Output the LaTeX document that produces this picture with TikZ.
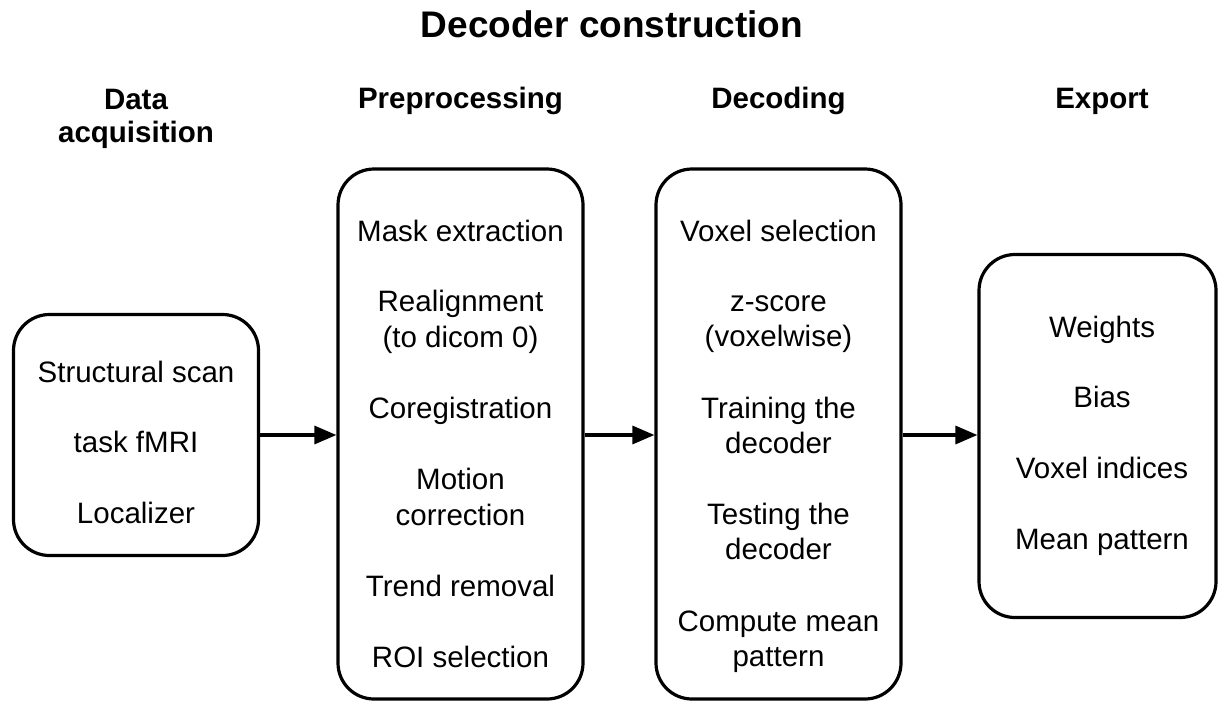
\documentclass[tikz,border=0pt]{standalone}
\usepackage{fontspec}
\setmainfont{Liberation Sans}
\usetikzlibrary{arrows.meta}
\begin{document}
\begin{tikzpicture}[x=1pt,y=-1pt,
  stagebox/.style={draw=black,line width=3.2pt,rounded corners=36pt,fill=none,inner sep=0pt},
  item/.style={anchor=base,inner sep=0pt,font=\fontsize{29.5}{35}\selectfont},
  head/.style={anchor=base,inner sep=0pt,font=\fontsize{29.5}{35}\selectfont\bfseries},
  ttl/.style={anchor=base,inner sep=0pt,font=\fontsize{37}{44}\selectfont\bfseries},
  arr/.style={line width=3.2pt,-{Triangle[length=22pt,width=18pt]}}]
\useasboundingbox (0,0) rectangle (1222,702);
% title
\node[ttl] (title) at (612,37) {Decoder construction};
% headings
\node[head] (h1a) at (136,109) {Data};
\node[head] (h1b) at (136,142) {acquisition};
\node[head] (h2) at (460.5,108) {Preprocessing};
\node[head] (h3) at (778.5,108) {Decoding};
\node[head] (h4) at (1102,108) {Export};
% boxes
\node[stagebox,minimum width=245pt,minimum height=241pt] (b1) at (136,435) {};
\node[stagebox,minimum width=245pt,minimum height=530pt] (b2) at (460.5,434) {};
\node[stagebox,minimum width=245pt,minimum height=530pt] (b3) at (778.5,434) {};
\node[stagebox,minimum width=237pt,minimum height=363pt] (b4) at (1097.5,436) {};
% box 1 texts
\node[item] (t11) at (136,382) {Structural scan};
\node[item] (t12) at (136,452) {task fMRI};
\node[item] (t13) at (136,523) {Localizer};
% box 2 texts
\node[item] (t21) at (460.5,241) {Mask extraction};
\node[item] (t22a) at (460.5,311) {Realignment};
\node[item] (t22b) at (460.5,347) {(to dicom 0)};
\node[item] (t23) at (460.5,418) {Coregistration};
\node[item] (t24a) at (460.5,489) {Motion};
\node[item] (t24b) at (460.5,525) {correction};
\node[item] (t25) at (460.5,596) {Trend removal};
\node[item] (t26) at (460.5,667) {ROI selection};
% box 3 texts
\node[item] (t31) at (778.5,241) {Voxel selection};
\node[item] (t32a) at (778.5,311) {z-score};
\node[item] (t32b) at (778.5,346) {(voxelwise)};
\node[item] (t33a) at (778.5,418) {Training the};
\node[item] (t33b) at (778.5,453) {decoder};
\node[item] (t34a) at (778.5,524) {Testing the};
\node[item] (t34b) at (778.5,559) {decoder};
\node[item] (t35a) at (778.5,631) {Compute mean};
\node[item] (t35b) at (778.5,666) {pattern};
% box 4 texts
\node[item] (t41) at (1102,337) {Weights};
\node[item] (t42) at (1102,407) {Bias};
\node[item] (t43) at (1102,478) {Voxel indices};
\node[item] (t44) at (1102,549) {Mean pattern};
% arrows
\draw[arr] (b1.east) -- (b1.east -| b2.west);
\draw[arr] (b2.east |- b1.east) -- (b1.east -| b3.west);
\draw[arr] (b3.east |- b1.east) -- (b1.east -| b4.west);
\end{tikzpicture}
\end{document}
